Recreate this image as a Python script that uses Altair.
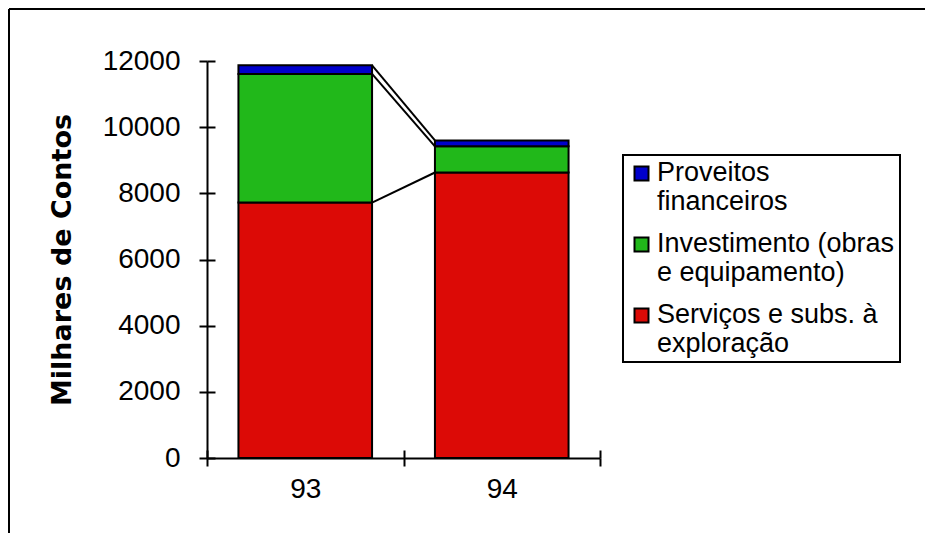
import altair as alt
import pandas as pd

# ---- data ----
years = ["93", "94"]
series = ["Serviços e subs. à|exploração",
          "Investimento (obras|e equipamento)",
          "Proveitos|financeiros"]
servicos = [7720, 8630]
investimento = [3890, 790]
proveitos = [260, 180]
colors = ["#dc0a06", "#21b81a", "#0000cc"]
y_ticks = [0, 2000, 4000, 6000, 8000, 10000, 12000]

values = [servicos, investimento, proveitos]
rows = []
for i, yr in enumerate(years):
    for k, name in enumerate(series):
        rows.append({"ano": yr, "serie": name, "valor": values[k][i], "ordem": k})
df = pd.DataFrame(rows)

# connector lines between the tops of each stacked segment
conn = []
cum0, cum1 = 0, 0
for k, name in enumerate(series):
    cum0 += values[k][0]
    cum1 += values[k][1]
    conn.append({"de": years[0], "para": years[1], "ya": cum0, "yb": cum1})
conn_df = pd.DataFrame(conn)

FONT = "Liberation Sans"
W, H = 393, 397
DY = -14  # shared vertical shift of guide labels (compensated on the axes)

xscale = alt.Scale(domain=years, paddingInner=0, paddingOuter=0)
yscale = alt.Scale(domain=[0, 12000], nice=False)

legend_order = series[::-1]
legend_colors = colors[::-1]

bars = alt.Chart(df).mark_bar(
    width=alt.RelativeBandSize(0.68), stroke="black", strokeWidth=2
).encode(
    x=alt.X("ano:N", scale=xscale, sort=years,
            axis=alt.Axis(title=None, labelAngle=0, labelFont=FONT, labelFontSize=28,
                          labelColor="black", labelPadding=9 - DY, tickBand="extent",
                          tickSize=8, tickWidth=2, tickColor="black",
                          domainColor="black", domainWidth=2)),
    y=alt.Y("valor:Q", stack="zero", scale=yscale,
            axis=alt.Axis(values=y_ticks, format="d", grid=False,
                          title="Milhares de Contos", titleFont="DejaVu Sans",
                          titleFontSize=27, titleFontWeight="bold", titleColor="black",
                          titlePadding=26,
                          labelFont=FONT, labelFontSize=28, labelColor="black",
                          labelOffset=-DY,
                          labelPadding=19, tickSize=8, tickWidth=2, tickColor="black",
                          domainColor="black", domainWidth=2)),
    color=alt.Color("serie:N",
                    scale=alt.Scale(domain=legend_order, range=legend_colors),
                    legend=alt.Legend(title=None, orient="none", legendX=416, legendY=94,
                                      labelExpr="split(datum.label, '|')",
                                      labelFont=FONT, labelFontSize=27, labelColor="black",
                                      labelBaseline="top", labelOffset=2, labelLimit=400,
                                      symbolType="square", symbolSize=196,
                                      symbolStrokeColor="black", symbolStrokeWidth=2,
                                      symbolOpacity=1, padding=5, rowPadding=14,
                                      strokeColor="black")),
    order=alt.Order("ordem:Q", sort="ascending"),
)

connectors = alt.Chart(conn_df).mark_rule(color="black", strokeWidth=2).encode(
    x=alt.X("de:N", scale=xscale, bandPosition=0.84,
            axis=alt.Axis(orient="bottom", offset=-8, domain=False, labels=False,
                          title=None, tickBand="extent", tickSize=8, tickWidth=2,
                          tickColor="black")),
    x2=alt.X2("para:N", bandPosition=0.16),
    y=alt.Y("ya:Q", scale=yscale,
            axis=alt.Axis(orient="left", offset=-8, values=y_ticks, domain=False,
                          labels=False, title=None, grid=False, tickSize=8,
                          tickWidth=2, tickColor="black")),
    y2="yb:Q",
)

frame_df = pd.DataFrame({"k": [0]})
frame_top = alt.Chart(frame_df).mark_rule(color="black", strokeWidth=2).encode(
    x=alt.value(-198), x2=alt.value(718), y=alt.value(-52))
frame_left = alt.Chart(frame_df).mark_rule(color="black", strokeWidth=2).encode(
    x=alt.value(-198), y=alt.value(-52), y2=alt.value(472))

base = alt.layer(frame_top, frame_left, bars, connectors).resolve_axis(
    x="independent", y="independent"
).properties(width=W, height=H, padding=0)

cfg = dict(
    style={"guide-label": {"lineHeight": 29, "dy": DY}},
    view=alt.ViewConfig(stroke="transparent"),
)
try:
    chart = base.configure(legend=alt.LegendConfig(strokeWidth=2), **cfg)
    chart.to_dict()
except Exception:
    chart = base.configure(**cfg)

chart.save("out.html", embed_options={"renderer": "svg", "actions": False})
